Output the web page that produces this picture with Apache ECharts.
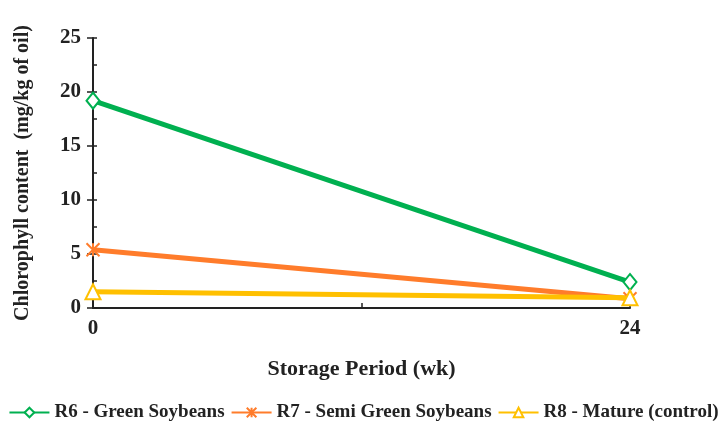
<!DOCTYPE html>
<html>
<head>
<meta charset="utf-8">
<script src="https://cdn.jsdelivr.net/npm/echarts@6/dist/echarts.min.js"></script>
<style>
html,body{margin:0;padding:0;background:#fff;}
#chart{width:727px;height:439px;}
</style>
</head>
<body>
<div id="chart"></div>
<script>
var weeks = [0, 24];
var seriesNames = ['R6 - Green Soybeans', 'R7 - Semi Green Soybeans', 'R8 - Mature (control)'];
var greenVals = [19.2, 2.4];
var orangeVals = [5.4, 0.85];
var yellowVals = [1.5, 0.95];
var colors = ['#00b050', '#ff7c2b', '#ffc000'];

var font = "'Liberation Serif', 'Times New Roman', serif";
var xPath = 'path://M0,0L10,10M10,0L0,10M5,0L5,10';

function pairs(vals){
	return weeks.map(function(w, i){ return [w, vals[i]]; });
}

var dom = document.getElementById('chart');
var myChart = echarts.init(dom);

var option = {
	animation: false,
	legend: {
		top: 398,
		left: 'center',
		itemWidth: 40,
		itemHeight: 12,
		itemGap: 6,
		textStyle: { fontFamily: font, fontWeight: 'bold', fontSize: 19, color: '#222' },
		data: seriesNames
	},
	grid: { left: 93, right: 97, top: 38, bottom: 131 },
	xAxis: {
		type: 'value',
		min: 0,
		max: 24,
		interval: 12,
		name: 'Storage Period (wk)',
		nameLocation: 'middle',
		nameGap: 50,
		nameTextStyle: { fontFamily: font, fontWeight: 'bold', fontSize: 22, color: '#222' },
		axisLine: { lineStyle: { color: '#222', width: 2 } },
		axisTick: { show: true, inside: true, length: 5, lineStyle: { color: '#222', width: 1.5 } },
		axisLabel: {
			fontFamily: font, fontWeight: 'bold', fontSize: 21, color: '#222', margin: 10,
			formatter: function(v){ return v === 12 ? '' : v; }
		},
		splitLine: { show: false }
	},
	yAxis: [{
		type: 'value',
		min: 0,
		max: 25,
		interval: 5,
		name: 'Chlorophyll content  (mg/kg of oil)',
		nameLocation: 'middle',
		nameGap: 60,
		nameTextStyle: { fontFamily: font, fontWeight: 'bold', fontSize: 20, color: '#222' },
		axisLine: { show: true, lineStyle: { color: '#222', width: 2 } },
		axisTick: { show: true, length: 6, lineStyle: { color: '#222', width: 1.5 } },
		axisLabel: { fontFamily: font, fontWeight: 'bold', fontSize: 21, color: '#222', margin: 12 },
		splitLine: { show: false }
	}, {
		type: 'value',
		min: 0,
		max: 25,
		interval: 2.5,
		position: 'left',
		axisLine: { show: false },
		axisTick: { show: true, inside: true, length: 4, lineStyle: { color: '#222', width: 1.5 } },
		axisLabel: { show: false },
		splitLine: { show: false }
	}],
	series: [{
		name: seriesNames[0],
		type: 'line',
		data: pairs(greenVals),
		symbol: 'diamond',
		symbolSize: [13, 16],
		lineStyle: { width: 5, color: colors[0] },
		itemStyle: { color: '#fff', borderColor: colors[0], borderWidth: 2 }
	}, {
		name: seriesNames[1],
		type: 'line',
		data: pairs(orangeVals),
		symbol: xPath,
		symbolSize: 13,
		lineStyle: { width: 5, color: colors[1] },
		itemStyle: { color: colors[1], borderColor: colors[1], borderWidth: 2 }
	}, {
		name: seriesNames[2],
		type: 'line',
		data: pairs(yellowVals),
		symbol: 'triangle',
		symbolSize: 15,
		lineStyle: { width: 5, color: colors[2] },
		itemStyle: { color: '#fff', borderColor: colors[2], borderWidth: 2 }
	}]
};

myChart.setOption(option);
</script>
</body>
</html>
